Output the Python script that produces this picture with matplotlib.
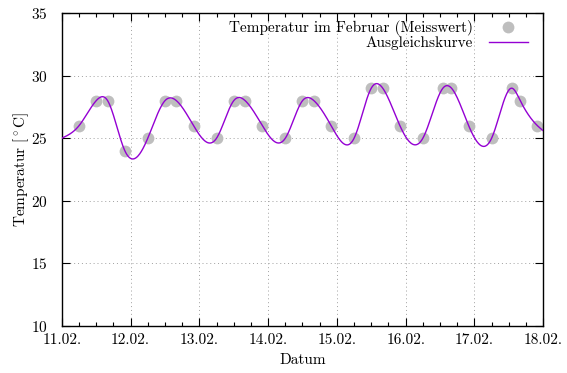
import numpy as np
import matplotlib
matplotlib.use("Agg")
import matplotlib.pyplot as plt
from matplotlib.ticker import MultipleLocator

# --- Data ---
# Measurement times: day index (0 = 11.02.) and hour of day
day_index = [0, 0, 0, 0, 1, 1, 1, 1, 2, 2, 2, 2, 3, 3, 3, 3,
             4, 4, 4, 4, 5, 5, 5, 5, 6, 6, 6, 6]
hour_of_day = [6, 12, 16, 22, 6, 12, 16, 22, 6, 12, 16, 22, 6, 12, 16, 22,
               6, 12, 16, 22, 6, 13, 16, 22, 6, 13, 16, 22]
temperature = [26, 28, 28, 24, 25, 28, 28, 26, 25, 28, 28, 26, 25, 28, 28, 26,
               25, 29, 29, 26, 25, 29, 29, 26, 25, 29, 28, 26]

# curve end values at the plot borders (points themselves lie on the frame)
curve_start_temp = 25.0
curve_end_temp = 25.6

date_labels = ["11.02.", "12.02.", "13.02.", "14.02.", "15.02.",
               "16.02.", "17.02.", "18.02."]
y_ticks = [10, 15, 20, 25, 30, 35]

POINT_COLOR = "#bebebe"
LINE_COLOR = "#9400d3"


def natural_cubic_spline(x, y, xs):
    """Natural cubic spline through (x, y), evaluated at xs."""
    x = np.asarray(x, float)
    y = np.asarray(y, float)
    n = len(x)
    h = np.diff(x)
    A = np.zeros((n, n))
    b = np.zeros(n)
    A[0, 0] = 1.0
    A[-1, -1] = 1.0
    for i in range(1, n - 1):
        A[i, i - 1] = h[i - 1]
        A[i, i] = 2 * (h[i - 1] + h[i])
        A[i, i + 1] = h[i]
        b[i] = 6 * ((y[i + 1] - y[i]) / h[i] - (y[i] - y[i - 1]) / h[i - 1])
    M = np.linalg.solve(A, b)
    idx = np.clip(np.searchsorted(x, xs) - 1, 0, n - 2)
    x0, x1 = x[idx], x[idx + 1]
    hh = x1 - x0
    t0 = x1 - xs
    t1 = xs - x0
    return (M[idx] * t0 ** 3 / (6 * hh) + M[idx + 1] * t1 ** 3 / (6 * hh)
            + (y[idx] / hh - M[idx] * hh / 6) * t0
            + (y[idx + 1] / hh - M[idx + 1] * hh / 6) * t1)


plt.rcParams["font.family"] = "cmr10"
plt.rcParams["mathtext.fontset"] = "cm"
plt.rcParams["axes.formatter.use_mathtext"] = True
plt.rcParams["font.size"] = 11

t_days = np.array(day_index) + np.array(hour_of_day) / 24.0
n_days = len(date_labels) - 1

curve_x = np.concatenate([[0.0], t_days, [float(n_days)]])
curve_y = np.concatenate([[curve_start_temp], temperature, [curve_end_temp]])
xs = np.linspace(0, n_days, 1200)
ys = natural_cubic_spline(curve_x, curve_y, xs)

fig = plt.figure(figsize=(5.67, 3.73), dpi=100)
ax = fig.add_axes([0.109, 0.126, 0.849, 0.839])

ax.plot(t_days, temperature, "o", color=POINT_COLOR, markersize=8.5,
        markeredgewidth=0, label="Temperatur im Februar (Meisswert)", zorder=2)
ax.plot(xs, ys, color=LINE_COLOR, linewidth=1.0, label="Ausgleichskurve", zorder=3)

ax.set_xlim(0, n_days)
ax.set_ylim(10, 35)
ax.set_xticks(range(len(date_labels)))
ax.set_xticklabels(date_labels)
ax.xaxis.set_minor_locator(MultipleLocator(0.25))
ax.set_yticks(y_ticks)

ax.tick_params(which="both", direction="in", top=True, right=True, labelsize=11)
ax.tick_params(axis="x", which="both", pad=5)
ax.tick_params(axis="y", which="both", pad=10)
ax.tick_params(which="major", length=5.5, width=0.8)
ax.tick_params(which="minor", length=3, width=0.8)
for s in ax.spines.values():
    s.set_linewidth(1.0)

ax.grid(True, which="major", linestyle=(0, (1, 3)), color="#a0a0a0", linewidth=0.7)

ax.set_xlabel("Datum", labelpad=5)
ax.set_ylabel(r"Temperatur [$^\circ$C]", labelpad=0)

ax.legend(loc="upper right", bbox_to_anchor=(0.969, 0.978), frameon=False,
          markerfirst=False, handlelength=2.6, handletextpad=1.0,
          labelspacing=0.0, borderpad=0.0, borderaxespad=0.0)

fig.savefig("out.png", dpi=100)
